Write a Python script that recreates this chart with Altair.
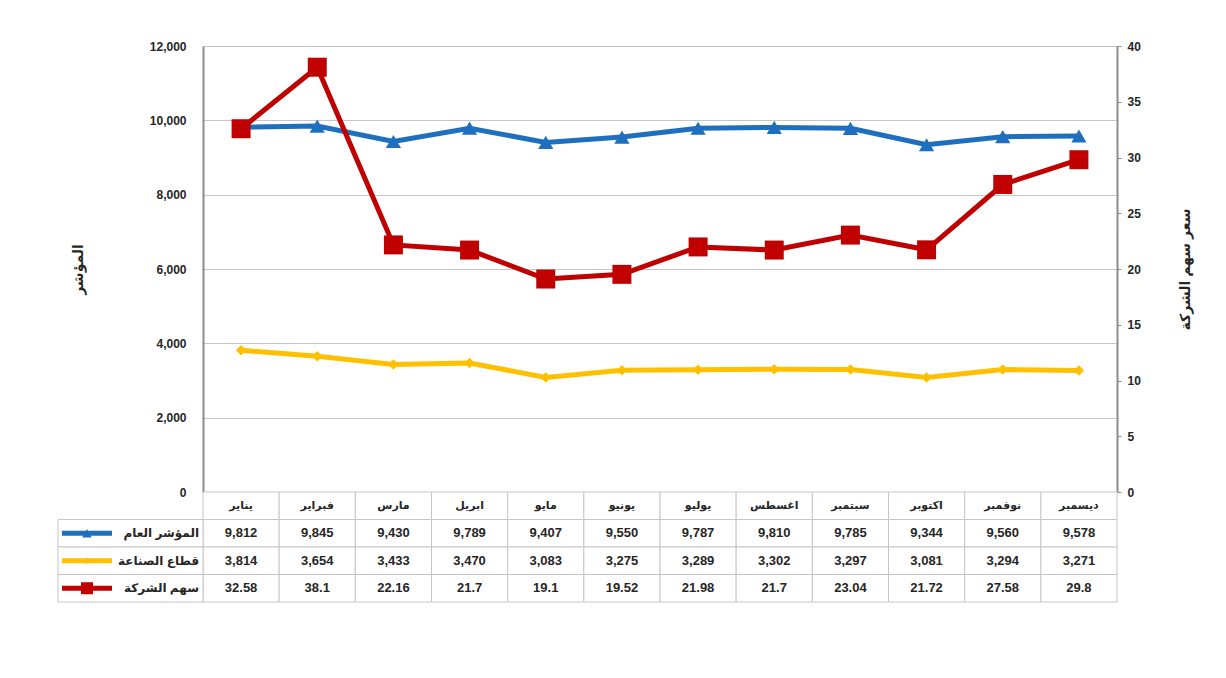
import altair as alt
import pandas as pd

months = ["يناير", "فبراير", "مارس", "ابريل", "مايو", "يونيو",
          "يوليو", "اغسطس", "سبتمبر", "اكتوبر", "نوفمبر", "ديسمبر"]
general = [9812, 9845, 9430, 9789, 9407, 9550, 9787, 9810, 9785, 9344, 9560, 9578]
industry = [3814, 3654, 3433, 3470, 3083, 3275, 3289, 3302, 3297, 3081, 3294, 3271]
stock = [32.58, 38.1, 22.16, 21.7, 19.1, 19.52, 21.98, 21.7, 23.04, 21.72, 27.58, 29.8]
series_names = ["المؤشر العام", "قطاع الصناعة", "سهم الشركة"]
left_ticks = [0, 2000, 4000, 6000, 8000, 10000, 12000]
right_ticks = [0, 5, 10, 15, 20, 25, 30, 35, 40]
left_title = "المؤشر"
right_title = "سعر سهم الشركة"

# styles
series_colors = ["#1F6FBF", "#FFC000", "#C00000"]
marker_shapes = ["triangle-up", "diamond", "square"]
marker_sizes = [230, 110, 360]
legend_paths = [
    "M-1,-0.1L1,-0.1L1,0.1L-1,0.1Z M0,-0.24L0.24,0.18L-0.24,0.18Z",
    "M-1,-0.1L1,-0.1L1,0.1L-1,0.1Z M0,-0.2L0.2,0L0,0.2L-0.2,0Z",
    "M-1,-0.1L1,-0.1L1,0.1L-1,0.1Z M-0.22,-0.22L0.22,-0.22L0.22,0.22L-0.22,0.22Z",
]
FONT = "Liberation Sans, DejaVu Sans, sans-serif"
TXT = "#262626"
GRID = "#C6C6C6"
AXIS = "#8C8C8C"
PLOT_W, PLOT_H = 914, 446
TABLE_H = 110
TOTAL_H = PLOT_H + TABLE_H

left_df = pd.DataFrame({
    "month": months * 2,
    "series": [series_names[0]] * 12 + [series_names[1]] * 12,
    "value": general + industry,
})
right_df = pd.DataFrame({"month": months, "series": series_names[2], "value": stock})

color_scale = alt.Scale(domain=series_names, range=series_colors)
x_enc = alt.X("month:N", sort=months, scale=alt.Scale(domain=months), axis=None)

y_left = alt.Y(
    "value:Q",
    scale=alt.Scale(domain=[0, 12000], nice=False, range=[PLOT_H, 0]),
    axis=alt.Axis(values=left_ticks, format=",.0f", title=left_title, titleAngle=270,
                  titlePadding=64, ticks=False, labelPadding=17, grid=True,
                  gridColor=GRID, domainColor=AXIS, domainWidth=2),
)
y_right = alt.Y(
    "value:Q",
    scale=alt.Scale(domain=[0, 40], nice=False, range=[PLOT_H, 0]),
    axis=alt.Axis(orient="right", values=right_ticks, title=right_title, titleAngle=270,
                  titlePadding=52, ticks=True, tickSize=4, tickColor=AXIS, labelPadding=6,
                  grid=False, domainColor=AXIS, domainWidth=2),
)

left_base = alt.Chart(left_df).encode(
    x=x_enc, y=y_left,
    color=alt.Color("series:N", scale=color_scale, legend=None),
)
left_layers = [left_base.mark_line(strokeWidth=5)]
for i in range(2):
    left_layers.append(
        left_base.transform_filter(alt.datum.series == series_names[i])
        .mark_point(filled=True, opacity=1, shape=marker_shapes[i], size=marker_sizes[i])
    )

right_base = alt.Chart(right_df).encode(
    x=x_enc, y=y_right,
    color=alt.Color("series:N", scale=color_scale, legend=None),
)
right_layers = [
    right_base.mark_line(strokeWidth=5),
    right_base.mark_point(filled=True, opacity=1, shape=marker_shapes[2], size=marker_sizes[2]),
]

# ---------- data table (below the plot, on its own band scales) ----------
row_keys = ["months"] + series_names
rows = []
for j, m in enumerate(months):
    rows.append({"month": m, "row": "months", "label": m})
    rows.append({"month": m, "row": series_names[0], "label": f"{general[j]:,}"})
    rows.append({"month": m, "row": series_names[1], "label": f"{industry[j]:,}"})
    rows.append({"month": m, "row": series_names[2], "label": f"{stock[j]}"})
table_df = pd.DataFrame(rows)

tx = alt.X("month:N", sort=months,
           scale=alt.Scale(domain=months, paddingInner=0, paddingOuter=0), axis=None)
ty = alt.Y("row:N", sort=row_keys,
           scale=alt.Scale(domain=row_keys, range=[PLOT_H, TOTAL_H],
                           paddingInner=0, paddingOuter=0), axis=None)

tbase = alt.Chart(table_df)
cells = tbase.mark_rect(fill="white", stroke=GRID, strokeWidth=1).encode(x=tx, y=ty)
month_text = tbase.transform_filter(alt.datum.row == "months").mark_text(
    font=FONT, fontSize=11, fontWeight="bold", color=TXT
).encode(x=tx, y=ty, text="label:N")
value_text = tbase.transform_filter(alt.datum.row != "months").mark_text(
    font=FONT, fontSize=13, fontWeight="bold", color=TXT
).encode(x=tx, y=ty, text="label:N")

label_df = pd.DataFrame({"row": series_names})
lbase = alt.Chart(label_df)
label_cells = lbase.mark_rect(fill="white", stroke=GRID, strokeWidth=1).encode(
    x=alt.value(-145), x2=alt.value(0), y=ty)
swatches = lbase.mark_rule(strokeWidth=5).encode(
    x=alt.value(-141), x2=alt.value(-91), y=ty,
    color=alt.Color("row:N", scale=color_scale, legend=None))
sw_marks = []
for i in range(3):
    sw_marks.append(
        lbase.transform_filter(alt.datum.row == series_names[i]).mark_point(
            filled=True, opacity=1, shape=marker_shapes[i], size=marker_sizes[i] * 0.4
        ).encode(x=alt.value(-116), y=ty,
                 color=alt.Color("row:N", scale=color_scale, legend=None))
    )
label_text = lbase.mark_text(font=FONT, fontSize=12, fontWeight="bold", color=TXT,
                             align="right").encode(x=alt.value(-4), y=ty, text="row:N")

table_group = alt.layer(cells, month_text, value_text, label_cells, swatches, *sw_marks,
                        label_text)

legend_props = dict(title=None, orient="none", legendX=200, legendY=578,
                    direction="horizontal", symbolSize=3025,
                    symbolStrokeWidth=0, symbolOpacity=1,
                    labelFont=FONT, labelFontSize=12, labelFontWeight="bold",
                    labelColor=TXT, columnPadding=45, labelOffset=4)
legend_layer = alt.Chart(pd.DataFrame({"lseries": series_names})).mark_point(
    filled=True, opacity=0
).encode(
    x=alt.value(0), y=alt.value(0),
    fill=alt.Fill("lseries:N", scale=alt.Scale(domain=series_names, range=series_colors),
                  legend=alt.Legend(**legend_props)),
    shape=alt.Shape("lseries:N", scale=alt.Scale(domain=series_names, range=legend_paths),
                    legend=alt.Legend(**legend_props)),
)

chart = alt.layer(
    alt.layer(*left_layers), alt.layer(*right_layers), table_group, legend_layer
).resolve_scale(
    x="independent", y="independent"
).properties(
    width=PLOT_W, height=TOTAL_H,
    padding={"left": 49, "top": 32, "right": 5, "bottom": 70},
).configure_view(stroke=None).configure_axis(
    labelFont=FONT, labelFontSize=12, labelFontWeight="bold", labelColor=TXT,
    titleFont=FONT, titleFontSize=14, titleFontWeight="bold", titleColor=TXT,
)

chart.save("out.html", embed_options={"renderer": "svg", "actions": False})
